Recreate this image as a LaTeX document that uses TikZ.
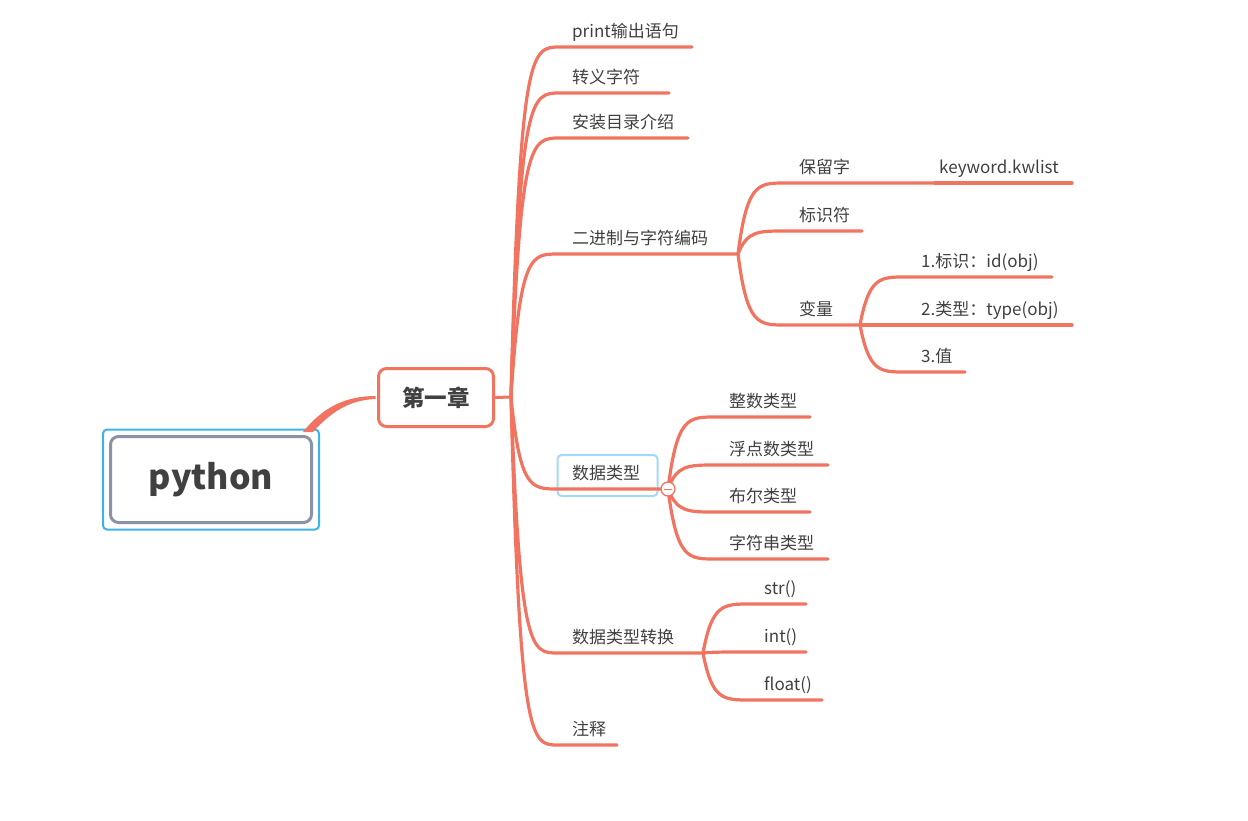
\documentclass[tikz,border=0pt]{standalone}
\usepackage{fontspec}
\setmainfont{Noto Sans CJK SC}
\usetikzlibrary{calc}
\definecolor{orng}{RGB}{242,115,96}
\definecolor{txt}{RGB}{64,64,64}
\definecolor{selblue}{RGB}{64,178,234}
\definecolor{lightblue}{RGB}{165,216,242}
\definecolor{rootgray}{RGB}{138,147,166}
\newcommand\brc[3]{\draw[br] (#1) .. controls ($(#1|-#2)+(9,0)$) and ($(#1|-#2)+(20,0)$) .. (#2) -- (#3);}
\begin{document}
\begin{tikzpicture}[x=1pt,y=-1pt,
  br/.style={draw=orng,line width=3.2pt,line cap=round},
  lbl/.style={anchor=base west,inner sep=0pt,text=txt,font=\fontsize{17}{20}\selectfont},
]
\path[use as bounding box] (0,0) rectangle (1248,820);

% root
\node[draw=rootgray,line width=3pt,rounded corners=8pt,minimum width=201pt,minimum height=86pt,
      text=txt,font=\fontsize{34}{40}\selectfont\bfseries] (root) at (211,479.5) {python};
\draw[selblue,line width=2pt,rounded corners=4pt]
  ($(root.north west)+(-6,-5.5)$) rectangle ($(root.south east)+(6,5.5)$);

% chapter node
\node[draw=orng,line width=3pt,rounded corners=8pt,minimum width=115pt,minimum height=58pt,
      text=txt,font=\fontsize{22.5}{27}\selectfont\bfseries] (ch1) at (436,397.5) {第一章};

% root connector (tapered)
\fill[orng] ($(root.north east)+(-10,-3)$) .. controls (322,408) and (345,396) .. ($(ch1.west)+(-1.5,-1.5)$)
  -- ($(ch1.west)+(-1.5,1.5)$) .. controls (350,400) and (332,411) .. ($(root.north east)+(0,-3)$) -- cycle;

% trunk
\coordinate (j0) at (511,397);
\draw[br,line width=3pt] (ch1.east) -- (j0);

% main children
\coordinate (a1) at (560,47);  \coordinate (b1) at (692,47);
\coordinate (a2) at (560,93);  \coordinate (b2) at (669,93);
\coordinate (a3) at (560,138); \coordinate (b3) at (688,138);
\coordinate (a4) at (558,254); \coordinate (j1) at (738,254);
\coordinate (a5) at (558,489); \coordinate (j2) at (668,489);
\coordinate (a6) at (558,653); \coordinate (j3) at (703,653);
\coordinate (a7) at (558,745); \coordinate (b7) at (617,745);

\node[draw=lightblue,line width=2pt,rounded corners=4pt,minimum width=100pt,minimum height=41pt] (dtbox) at (607.5,475.5) {};

\brc{j0}{a1}{b1}
\brc{j0}{a2}{b2}
\brc{j0}{a3}{b3}
\brc{j0}{a4}{j1}
\brc{j0}{a5}{j2}
\brc{j0}{a6}{j3}
\brc{j0}{a7}{b7}

\node[lbl] (t1) at (572,37) {print输出语句};
\node[lbl] (t2) at (572,83) {转义字符};
\node[lbl] (t3) at (572,128) {安装目录介绍};
\node[lbl] (t4) at (572,244) {二进制与字符编码};
\node[lbl] (t5) at (572,479) {数据类型};
\node[lbl] (t6) at (572,643) {数据类型转换};
\node[lbl] (t7) at (572,735) {注释};

% 二进制与字符编码
\coordinate (c1) at (785,183); \coordinate (k1) at (935,183); \coordinate (k2) at (1072,183);
\coordinate (c2) at (785,231); \coordinate (d2) at (862,231);
\coordinate (c3) at (785,325); \coordinate (j4) at (860,325);
\brc{j1}{c1}{k1}
\draw[br] (k1) -- (k2);
\brc{j1}{c2}{d2}
\brc{j1}{c3}{j4}
\node[lbl] (u1) at (799,173) {保留字};
\node[lbl] (kw) at (939,173) {keyword.kwlist};
\node[lbl] (u2) at (799,221) {标识符};
\node[lbl] (u3) at (799,315) {变量};

% 变量
\coordinate (e1) at (905,277); \coordinate (f1) at (1052,277);
\coordinate (e2) at (905,325); \coordinate (f2) at (1072,325);
\coordinate (e3) at (905,372); \coordinate (f3) at (965,372);
\brc{j4}{e1}{f1}
\brc{j4}{e2}{f2}
\brc{j4}{e3}{f3}
\node[lbl] (v1) at (921,267) {1.标识：id(obj)};
\node[lbl] (v2) at (921,315) {2.类型：type(obj)};
\node[lbl] (v3) at (921,362) {3.值};

% 数据类型
\coordinate (g1) at (715,417); \coordinate (h1) at (810,417);
\coordinate (g2) at (715,465); \coordinate (h2) at (828,465);
\coordinate (g3) at (715,512); \coordinate (h3) at (810,512);
\coordinate (g4) at (715,559); \coordinate (h4) at (828,559);
\brc{j2}{g1}{h1}
\brc{j2}{g2}{h2}
\brc{j2}{g3}{h3}
\brc{j2}{g4}{h4}
\node[lbl] (w1) at (729,407) {整数类型};
\node[lbl] (w2) at (729,455) {浮点数类型};
\node[lbl] (w3) at (729,502) {布尔类型};
\node[lbl] (w4) at (729,549) {字符串类型};
\node[circle,draw=orng,fill=white,line width=1.3pt,minimum size=14pt,inner sep=0pt] (col) at (j2) {};
\draw[orng,line width=1pt] ($(col.center)+(-4,0)$) -- ($(col.center)+(4,0)$);

% 数据类型转换
\coordinate (m1) at (750,604); \coordinate (n1) at (806,604);
\coordinate (m2) at (750,652); \coordinate (n2) at (806,652);
\coordinate (m3) at (750,700); \coordinate (n3) at (822,700);
\brc{j3}{m1}{n1}
\brc{j3}{m2}{n2}
\brc{j3}{m3}{n3}
\node[lbl] (s1) at (764,594) {str()};
\node[lbl] (s2) at (764,642) {int()};
\node[lbl] (s3) at (764,690) {float()};
\end{tikzpicture}
\end{document}
